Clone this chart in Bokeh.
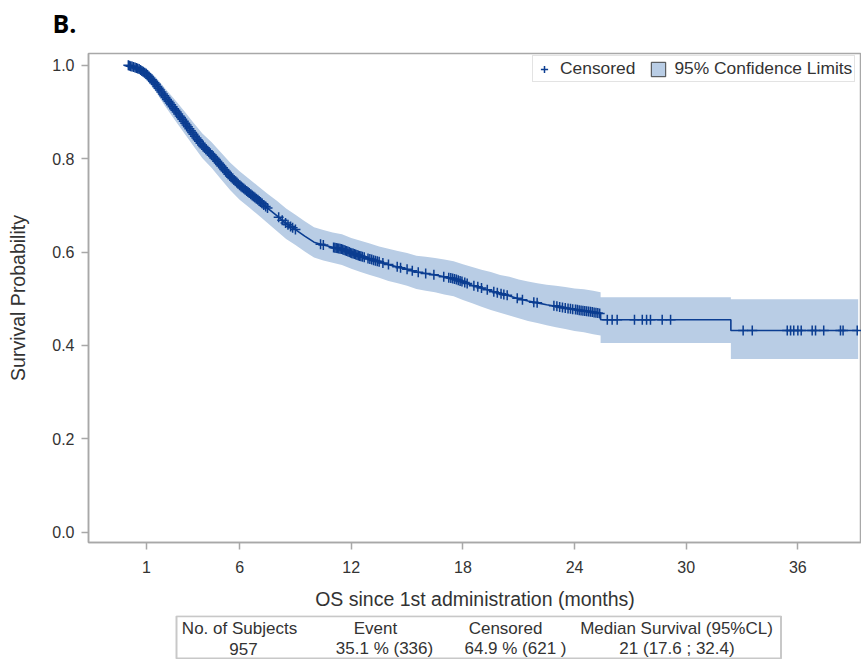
import numpy as np
from bokeh.plotting import figure
from bokeh.layouts import column
from bokeh.models import Range1d, FixedTicker, Legend, LegendItem, ColumnDataSource
from bokeh.core.properties import value
from bokeh.embed import file_html
from bokeh.resources import INLINE

# ---------------- data ----------------
panel_title = "B."
x_label = "OS since 1st administration (months)"
y_label = "Survival Probability"
x_ticks = [1, 6, 12, 18, 24, 30, 36]
y_ticks = [0.0, 0.2, 0.4, 0.6, 0.8, 1.0]
legend_labels = ["Censored", "95% Confidence Limits"]

time_mo = [0.0, 0.3, 0.6, 1.0, 1.5, 2.0, 2.5, 3.0, 3.5, 4.0, 4.5, 5.0, 5.5, 6.0, 6.5,
           7.0, 7.5, 8.0, 8.5, 9.0, 9.5, 10.0, 10.5, 11.0, 11.5, 12.0, 12.5, 13.0,
           13.5, 14.0, 14.5, 15.0, 15.5, 16.0, 16.5, 17.0, 17.5, 18.0, 18.5, 19.0,
           19.5, 20.0, 20.5, 21.0, 21.5, 22.0, 22.5, 23.0, 23.5, 24.0, 24.5, 25.0,
           25.4, 25.4, 32.4, 32.4, 39.24]
survival = [1.000, 0.996, 0.992, 0.981, 0.959, 0.932, 0.906, 0.880, 0.853, 0.828,
            0.808, 0.785, 0.762, 0.743, 0.727, 0.711, 0.694, 0.678, 0.661, 0.648,
            0.634, 0.621, 0.615, 0.610, 0.606, 0.598, 0.591, 0.585, 0.579, 0.573,
            0.568, 0.563, 0.557, 0.554, 0.551, 0.547, 0.543, 0.536, 0.529, 0.523,
            0.517, 0.511, 0.506, 0.500, 0.495, 0.491, 0.487, 0.484, 0.480, 0.477,
            0.474, 0.471, 0.468, 0.455, 0.455, 0.432, 0.432]
lower_cl = [1.000, 0.990, 0.982, 0.968, 0.943, 0.912, 0.884, 0.856, 0.828, 0.801,
            0.780, 0.756, 0.732, 0.712, 0.696, 0.679, 0.662, 0.645, 0.628, 0.615,
            0.601, 0.588, 0.582, 0.577, 0.572, 0.564, 0.557, 0.551, 0.545, 0.538,
            0.533, 0.528, 0.521, 0.517, 0.514, 0.509, 0.505, 0.497, 0.490, 0.483,
            0.476, 0.470, 0.464, 0.458, 0.452, 0.448, 0.443, 0.439, 0.435, 0.431,
            0.428, 0.424, 0.421, 0.405, 0.405, 0.371, 0.371]
upper_cl = [1.000, 1.000, 1.000, 0.993, 0.974, 0.950, 0.927, 0.903, 0.878, 0.854,
            0.835, 0.813, 0.791, 0.773, 0.757, 0.741, 0.725, 0.710, 0.693, 0.680,
            0.666, 0.653, 0.647, 0.642, 0.638, 0.630, 0.624, 0.618, 0.612, 0.607,
            0.602, 0.598, 0.592, 0.590, 0.587, 0.584, 0.580, 0.574, 0.568, 0.562,
            0.557, 0.551, 0.547, 0.541, 0.537, 0.533, 0.530, 0.528, 0.525, 0.522,
            0.520, 0.517, 0.514, 0.503, 0.503, 0.499, 0.499]

censor_times = [0.02, 0.08, 0.15, 0.22, 0.3, 0.38, 0.45, 0.52, 0.6, 0.68, 0.75, 0.82,
                0.9, 0.98, 1.05, 1.12, 1.2, 1.28, 1.35, 1.42, 1.5, 1.58, 1.65, 1.72,
                1.8, 1.88, 1.95, 2.02, 2.1, 2.18, 2.25, 2.32, 2.4, 2.48, 2.55, 2.62,
                2.7, 2.78, 2.85, 2.92, 3.0, 3.08, 3.15, 3.22, 3.3, 3.38, 3.45, 3.52,
                3.6, 3.68, 3.75, 3.82, 3.9, 3.98, 4.05, 4.12, 4.2, 4.28, 4.35, 4.42,
                4.5, 4.58, 4.65, 4.72, 4.8, 4.88, 4.95, 5.02, 5.1, 5.18, 5.25, 5.32,
                5.4, 5.48, 5.55, 5.62, 5.7, 5.78, 5.85, 5.92, 6.0, 6.08, 6.15, 6.22,
                6.3, 6.38, 6.45, 6.52, 6.6, 6.68, 6.75, 6.82, 6.9, 6.98, 7.05, 7.12,
                7.2, 7.3, 7.4, 7.5,
                8.1, 8.29, 8.47, 8.6, 8.74, 8.85, 9.0, 10.35, 10.5,
                11.05, 11.12, 11.19, 11.26, 11.33, 11.4, 11.47, 11.54, 11.61, 11.68,
                11.75, 11.82, 11.89, 11.96, 12.03, 12.1, 12.17, 12.24, 12.31, 12.38,
                12.45, 12.52, 12.6, 12.7, 12.9, 13.0, 13.1, 13.2, 13.3, 13.4, 13.5,
                13.7, 14.0, 14.47, 14.65, 15.0, 15.28, 15.6, 16.0, 16.44, 16.97,
                17.24, 17.35, 17.45, 17.55, 17.65, 17.75, 17.85, 17.95, 18.1, 18.23,
                18.59, 18.8, 19.0, 19.31, 19.66, 19.85, 20.05, 20.2, 20.38, 20.92,
                21.2, 21.81, 21.99, 22.89, 23.05, 23.2, 23.35, 23.5, 23.65, 23.78,
                23.9, 24.05, 24.15, 24.25, 24.35, 24.45, 24.55, 24.65, 24.75, 24.85,
                24.95, 25.05, 25.15, 25.25, 25.35,
                25.76, 26.02, 26.29, 27.22, 27.64, 27.87, 28.08, 28.71, 29.16,
                33.06, 33.55, 35.43, 35.61, 35.78, 36.0, 36.18, 36.77, 36.95, 37.39,
                38.29, 38.43, 39.19]

table_headers = ["No. of Subjects", "Event", "Censored", "Median Survival (95%CL)"]
table_values = ["957", "35.1 % (336)", "64.9 % (621 )", "21 (17.6 ; 32.4)"]

# ---------------- style ----------------
LINE = "#0B3D91"
BAND = "#B9CDE5"
AXIS = "#A8A8A8"
TEXT = "#333333"
FONT = "Liberation Sans"

# censored marks sit on the drawn KM curve
censor_surv = list(np.interp(censor_times, time_mo, survival))

# ---------------- header strip with the panel letter ----------------
h = figure(width=861, height=52, title=panel_title,
           x_range=Range1d(0, 1), y_range=Range1d(0, 1),
           output_backend="svg", toolbar_location=None,
           min_border_left=88, min_border_right=0, min_border_top=42, min_border_bottom=0,
           x_axis_type=None, y_axis_type=None)
h.grid.visible = False
h.outline_line_color = None
h.background_fill_color = "white"
h.border_fill_color = "white"
h.title.text_font = "Open Sans"
h.title.text_font_style = "bold"
h.title.text_font_size = "25px"
h.title.text_color = "#000000"
h.title.align = "left"
h.title.vertical_align = "bottom"
h.title.offset = -36
h.title.standoff = 6

# ---------------- main KM plot ----------------
p = figure(width=861, height=563,
           x_range=Range1d(-2.12, 39.42), y_range=Range1d(-0.0221, 1.0251),
           output_backend="svg", toolbar_location=None,
           min_border_left=88, min_border_right=0, min_border_top=1, min_border_bottom=73)
p.grid.visible = False
p.background_fill_color = "white"
p.border_fill_color = "white"
p.outline_line_color = AXIS
p.outline_line_width = 1.5

band = p.varea(x=time_mo, y1=lower_cl, y2=upper_cl, fill_color=BAND, fill_alpha=1.0)
curve = p.line(x=time_mo, y=survival, line_color=LINE, line_width=1.6)
cens = p.scatter(x=censor_times, y=censor_surv, marker="cross", size=10,
                 line_color=LINE, line_width=1.5)
band_key = p.quad(source=ColumnDataSource(dict(l=[np.nan], r=[np.nan], t=[np.nan], b=[np.nan])),
                  left="l", right="r", top="t", bottom="b",
                  fill_color=BAND, line_color="#404040", line_width=1)

for ax in (p.xaxis[0], p.yaxis[0]):
    ax.axis_line_color = AXIS
    ax.axis_line_width = 1.5
    ax.major_tick_line_color = AXIS
    ax.major_tick_line_width = 1.5
    ax.major_tick_out = 7
    ax.major_tick_in = 0
    ax.minor_tick_line_color = None
    ax.major_label_text_font = FONT
    ax.major_label_text_font_size = "16px"
    ax.major_label_text_color = TEXT
    ax.axis_label_text_font = FONT
    ax.axis_label_text_font_size = "19.5px"
    ax.axis_label_text_font_style = "normal"
    ax.axis_label_text_color = TEXT

p.xaxis.ticker = FixedTicker(ticks=x_ticks)
p.yaxis.ticker = FixedTicker(ticks=y_ticks)
p.yaxis.major_label_overrides = {v: f"{v:.1f}" for v in y_ticks}
p.xaxis.axis_label = x_label
p.yaxis.axis_label = y_label
p.xaxis.major_label_standoff = 11
p.xaxis.axis_label_standoff = 12
p.yaxis.major_label_standoff = 7
p.yaxis.axis_label_standoff = 20

legend = Legend(items=[LegendItem(label=legend_labels[0], renderers=[cens]),
                       LegendItem(label=legend_labels[1], renderers=[band_key])],
                orientation="horizontal", location=(444, 460),
                glyph_width=18, glyph_height=18, label_height=18,
                label_standoff=7, spacing=14, padding=2, margin=0,
                border_line_color="#C8C8C8", border_line_width=1,
                background_fill_color="white", background_fill_alpha=1.0,
                label_text_font=FONT, label_text_font_size="17.4px",
                label_text_color=TEXT)
p.add_layout(legend)

# ---------------- summary table ----------------
t = figure(width=861, height=44, x_range=Range1d(88, 861), y_range=Range1d(0, 44),
           output_backend="svg", toolbar_location=None,
           min_border_left=88, min_border_right=0, min_border_top=0, min_border_bottom=0,
           x_axis_type=None, y_axis_type=None)
t.grid.visible = False
t.outline_line_color = None
t.background_fill_color = "white"
t.border_fill_color = "white"
TBL_L, TBL_R, TBL_T, TBL_B = 176, 780.5, 43.2, 1.0
t.quad(left=[TBL_L], right=[TBL_R], top=[TBL_T], bottom=[TBL_B],
       fill_color=None, line_color="#C8C8C8", line_width=2)
hdr_x = [239, 375, 505, 676]
val_x = [243, 384, 515, 676.5]
t.text(x=hdr_x, y=[31] * 4, text=table_headers, text_align="center",
       text_baseline="middle", text_font=value(FONT), text_font_size="17px",
       text_color=TEXT)
t.text(x=val_x, y=[11] * 4, text=table_values, text_align="center",
       text_baseline="middle", text_font=value(FONT), text_font_size="17px",
       text_color=TEXT)

layout = column(h, p, t)
open("out.html", "w").write(file_html(layout, INLINE))
